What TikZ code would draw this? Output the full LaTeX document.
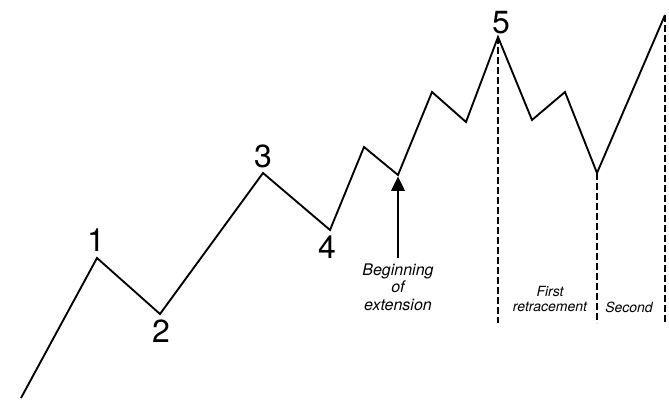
\documentclass[tikz,border=0pt]{standalone}
\usepackage{fontspec}
\setmainfont{TeX Gyre Heros}
\usetikzlibrary{arrows.meta}

\begin{document}
\begin{tikzpicture}[x=0.75pt, y=-0.75pt,
        wave/.style={line width=1.4pt, line join=miter},
        count/.style={font=\fontsize{24}{24}\selectfont, inner sep=0pt},
        note/.style={font=\itshape\fontsize{12}{13}\selectfont, align=center, inner sep=0pt},
        small note/.style={font=\itshape\fontsize{10.5}{11}\selectfont, align=center, inner sep=0pt},
        guide/.style={line width=1.2pt, dash pattern=on 5pt off 2.5pt},
        pointer/.style={line width=2.2pt, -{Triangle[width=10pt, length=11pt]}}]
        \useasboundingbox (0,0) rectangle (669,403);

        % Impulse waves 1 to 4
        \coordinate (w0) at (21,398);
        \coordinate (w1) at (97,258);
        \coordinate (w2) at (160,314);
        \coordinate (w3) at (263,173);
        \coordinate (w4) at (330,230);
        % Extended fifth wave
        \coordinate (e1) at (364,147);
        \coordinate (e2) at (398,175);
        \coordinate (e3) at (432,92);
        \coordinate (e4) at (466,122);
        \coordinate (w5) at (498,37);
        % Retracements
        \coordinate (r1) at (532,120);
        \coordinate (r2) at (565,92);
        \coordinate (r3) at (597,173);
        \coordinate (r4) at (665,15);
        \coordinate (base) at (0,323);

        \draw[wave] (w0) -- (w1) -- (w2) -- (w3) -- (w4) -- (e1) -- (e2) -- (e3) -- (e4)
                -- (w5) -- (r1) -- (r2) -- (r3) -- (r4);

        % Wave counts
        \node[count] (n1) at (96,240) {1};
        \node[count] (n2) at (161,331) {2};
        \node[count] (n3) at (263,156) {3};
        \node[count] (n4) at (327,247) {4};
        \node[count] (n5) at (501,23) {5};

        % Beginning of extension
        \node[note] (ext) at (398,287) {Beginning\\of\\extension};
        \draw[pointer, shorten <=4pt, shorten >=1pt] (ext) -- (e2);

        % Retracement guides
        \draw[guide] (w5) -- (w5 |- base);
        \draw[guide] (r3) -- (r3 |- base);
        \draw[guide] (r4) -- (r4 |- base);
        \node[small note] (first) at (550,299) {First\\retracement};
        \node[small note] (second) at (629,307) {Second};

    \end{tikzpicture}
\end{document}
